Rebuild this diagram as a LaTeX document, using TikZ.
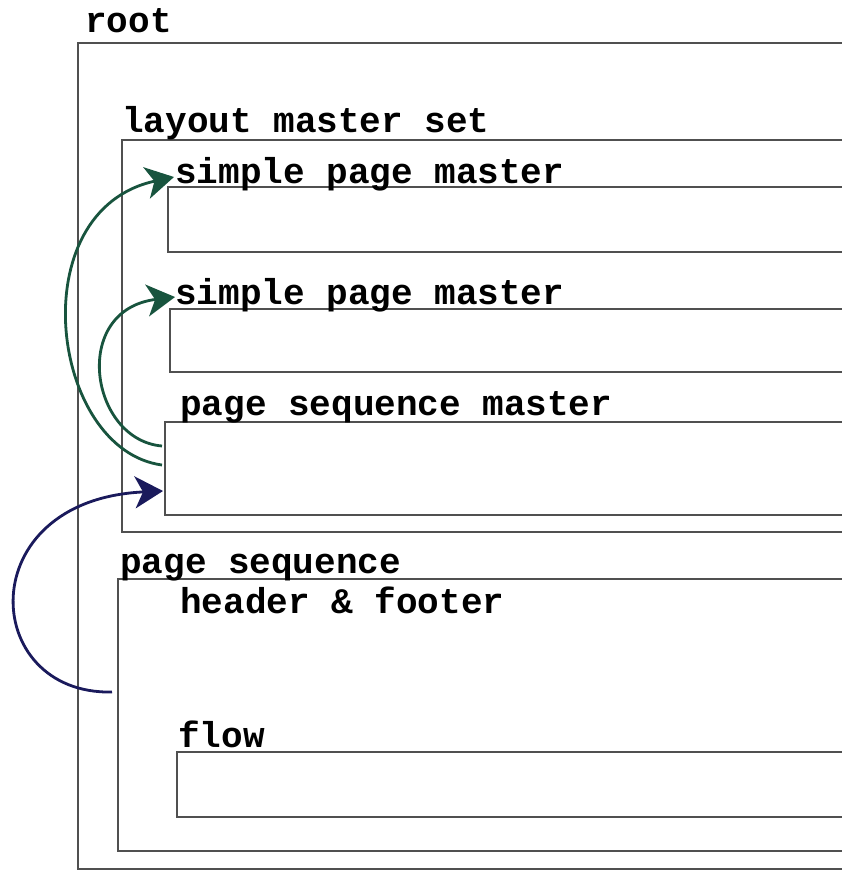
\documentclass[tikz,border=0pt]{standalone}
\usepackage{fontspec}
\setmonofont{Liberation Mono}
\usetikzlibrary{arrows.meta,calc}
\definecolor{boxgray}{RGB}{80,80,80}
\definecolor{arrgreen}{RGB}{24,84,62}
\definecolor{arrblue}{RGB}{26,26,92}
\tikzset{
  boxnode/.style={draw=boxgray,line width=2.2pt,rectangle,inner sep=0pt,outer sep=0pt,anchor=north west},
  lbl/.style={anchor=base west,inner sep=0pt,font=\fontsize{36}{40}\selectfont\ttfamily\bfseries},
  garrow/.style={draw=arrgreen,line width=2.8pt,-{Stealth[length=28pt,width=32pt,inset=8pt]}},
  barrow/.style={draw=arrblue,line width=2.8pt,-{Stealth[length=28pt,width=32pt,inset=8pt]}}
}
\begin{document}
\begin{tikzpicture}[x=1pt,y=-1pt]
\useasboundingbox (0,0) rectangle (842,871);
\fill[white] (0,0) rectangle (842,871);
\clip (0,0) rectangle (842,871);
% boxes
\node[boxnode,minimum width=800pt,minimum height=826pt] (root) at (78,43) {};
\node[boxnode,minimum width=760pt,minimum height=392pt] (lms) at (122,140) {};
\node[boxnode,minimum width=700pt,minimum height=65pt] (spm1) at (168,187) {};
\node[boxnode,minimum width=700pt,minimum height=63pt] (spm2) at (170,309) {};
\node[boxnode,minimum width=700pt,minimum height=93pt] (psm) at (165,422) {};
\node[boxnode,minimum width=760pt,minimum height=272pt] (ps) at (118,579) {};
\node[boxnode,minimum width=700pt,minimum height=65pt] (flow) at (177,752) {};
% labels
\node[lbl] (lroot) at (85,32) {root};
\node[lbl] (llms) at (122,132) {layout master set};
\node[lbl] (lspm1) at (175,183) {simple page master};
\node[lbl] (lspm2) at (175,304) {simple page master};
\node[lbl] (lpsm) at (180,415) {page sequence master};
\node[lbl] (lps) at (120,573) {page sequence};
\node[lbl] (lhf) at (180,613) {header \& footer};
\node[lbl] (lflow) at (178,747) {flow};
% arrow end points
\coordinate (g1s) at ($(psm.north west)+(-3,43)$);
\coordinate (g2s) at ($(psm.north west)+(-3,24)$);
\coordinate (g1e) at ($(spm1.north west)+(6,-10)$);
\coordinate (g2e) at ($(spm2.north west)+(5,-12)$);
\coordinate (bs) at ($(ps.north west)+(-6,113)$);
\coordinate (be) at ($(psm.north west)+(-2,69)$);
% arrows
\draw[garrow] (g1s) .. controls (50,450) and (20,210) .. (g1e);
\draw[garrow] (g2s) .. controls (90,440) and (70,310) .. (g2e);
\draw[barrow] (bs) .. controls (-20,695) and (-30,500) .. (be);
\end{tikzpicture}
\end{document}
